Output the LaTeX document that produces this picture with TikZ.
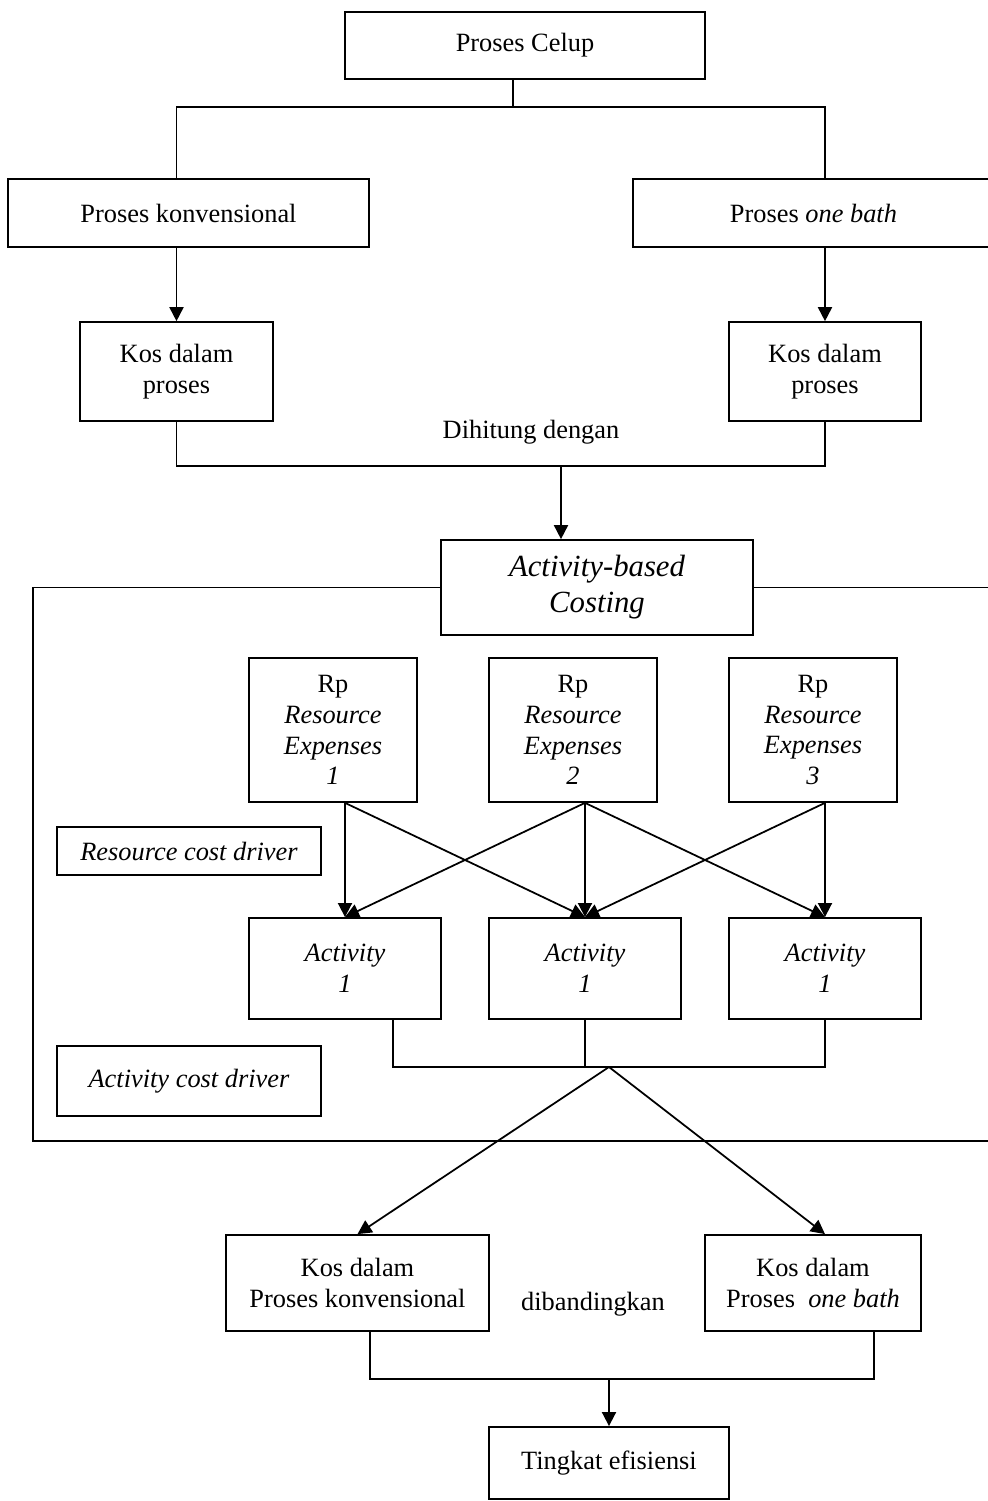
\documentclass[tikz,border=0pt]{standalone}
\usepackage{fontspec}
\setmainfont{Liberation Serif}
\usetikzlibrary{arrows.meta}

\begin{document}
\begin{tikzpicture}[
      x=0.455pt, y=-0.455pt,
      every node/.style={font=\fontsize{12}{14}\selectfont, align=center, inner sep=0pt},
      box/.style={rectangle, draw, line width=0.8pt},
      abcbox/.style={box, font=\fontsize{14}{16.4}\selectfont\itshape},
      lbl/.style={},
      ln/.style={line width=0.8pt},
      arr/.style={ln, -{Triangle[length=6.4pt, width=6.4pt]}}
    ]
    \useasboundingbox (0,0) rectangle (988,1501);
    \clip (0,0) rectangle (988,1501);

    % proses
    \node[box, minimum width=163.8pt, minimum height=30.5pt] (celup) at (525,45.5) {Proses Celup};
    \node[box, minimum width=164.3pt, minimum height=30.9pt] (konv) at (188.5,213) {Proses konvensional};
    \node[box, minimum width=164.3pt, minimum height=30.9pt] (onebath) at (813.5,213) {Proses \textit{one bath}};
    \node[box, minimum width=87.8pt, minimum height=45pt] (kosA) at (176.5,371.5) {Kos dalam\\proses};
    \node[box, minimum width=87.4pt, minimum height=45pt] (kosB) at (825,371.5) {Kos dalam\\proses};
    \node[lbl] (hitung) at (531,432) {Dihitung dengan};

    \coordinate (j0) at (513,107);
    \coordinate (j1) at (561,466);

    % activity-based costing
    \node[abcbox, minimum width=142pt, minimum height=43.2pt] (abc) at (597,587.5) {Activity-based\\Costing};
    \coordinate (fbl) at (33,1141);
    \coordinate (fbr) at (1000,1141);

    \node[box, minimum width=76.4pt, minimum height=65.5pt] (re1) at (333,730) {Rp\\\textit{Resource}\\\textit{Expenses}\\\textit{1}};
    \node[box, minimum width=76.4pt, minimum height=65.5pt] (re2) at (573,730) {Rp\\\textit{Resource}\\\textit{Expenses}\\\textit{2}};
    \node[box, minimum width=76.4pt, minimum height=65.5pt] (re3) at (813,730) {Rp\\\textit{Resource}\\\textit{Expenses}\\\textit{3}};
    \node[box, minimum width=120.1pt, minimum height=21.8pt] (rcd) at (189,851) {\textit{Resource cost driver}};

    \node[box, minimum width=87.4pt, minimum height=46pt] (act1) at (345,968.5) {\textit{Activity}\\\textit{1}};
    \node[box, minimum width=87.4pt, minimum height=46pt] (act2) at (585,968.5) {\textit{Activity}\\\textit{1}};
    \node[box, minimum width=87.4pt, minimum height=46pt] (act3) at (825,968.5) {\textit{Activity}\\\textit{1}};
    \node[box, minimum width=120.1pt, minimum height=31.9pt] (acd) at (189,1081) {\textit{Activity cost driver}};
    \coordinate (j2) at (609,1067);
    \coordinate (j2l) at (393,1067);

    % hasil
    \node[box, minimum width=119.7pt, minimum height=43.7pt] (res1) at (357.5,1283) {Kos dalam\\Proses konvensional};
    \node[box, minimum width=98.3pt, minimum height=43.7pt] (res2) at (813,1283) {Kos dalam\\Proses\ \ \textit{one bath}};
    \node[lbl] (banding) at (593,1304) {dibandingkan};
    \node[box, minimum width=109.2pt, minimum height=32.8pt] (eff) at (609,1463) {Tingkat efisiensi};
    \coordinate (j3) at (609,1379);
    \coordinate (j3l) at (370,1379);
    \coordinate (j3r) at (874,1379);

    \draw[ln] (j0 |- celup.south) -- (j0);
    \draw[ln] (kosA |- konv.north) |- (j0) -| (kosB |- onebath.north);
    \draw[arr] (kosA |- konv.south) -- (kosA.north);
    \draw[arr] (kosB |- onebath.south) -- (kosB.north);
    \draw[ln] (kosA.south) |- (j1) -| (kosB.south);
    \draw[arr] (j1) -- (j1 |- abc.north);

    \draw[ln] (abc.west) -| (fbl) -- (fbr);
    \draw[ln] (abc.east) -- (abc.east -| fbr);

    \draw[arr] (re1.south -| act1) -- (act1.north);
    \draw[arr] (re1.south -| act1) -- (act2.north);
    \draw[arr] (re2.south -| act2) -- (act1.north);
    \draw[arr] (re2.south -| act2) -- (act2.north);
    \draw[arr] (re2.south -| act2) -- (act3.north);
    \draw[arr] (re3.south -| act3) -- (act2.north);
    \draw[arr] (re3.south -| act3) -- (act3.north);

    \draw[ln] (j2l |- act1.south) -- (j2l) -| (act3.south);
    \draw[ln] (act2.south) -- (act2 |- j2);
    \draw[arr] (j2) -- (res1.north);
    \draw[arr] (j2) -- (act3 |- res2.north);

    \draw[ln] (j3l |- res1.south) -- (j3l) -- (j3r) -- (j3r |- res2.south);
    \draw[arr] (j3) -- (eff.north);
  \end{tikzpicture}
\end{document}
